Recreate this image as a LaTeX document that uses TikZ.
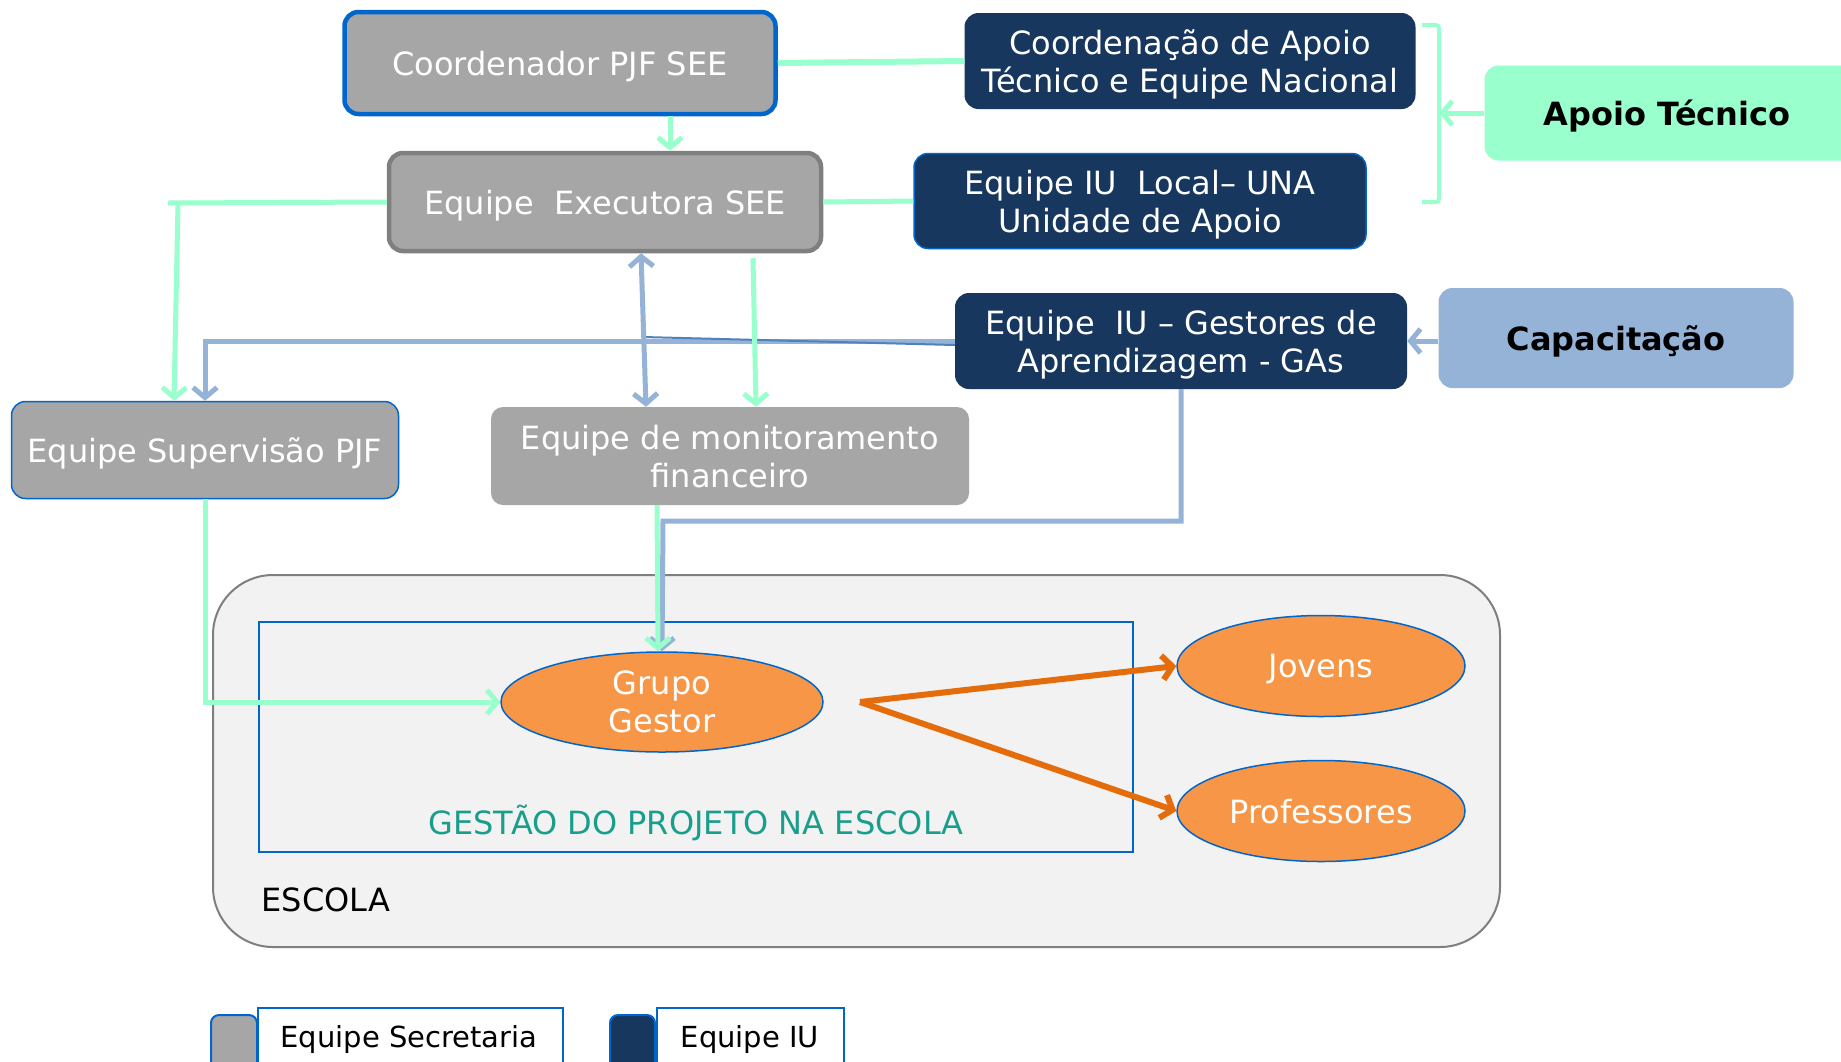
\documentclass[tikz,border=0pt]{standalone}
\usepackage{fontspec}
\setmainfont{DejaVu Sans}
\usetikzlibrary{arrows.meta,shapes.geometric,calc}
\definecolor{mint}{HTML}{99FFCC}
\definecolor{lblue}{HTML}{95B3D7}
\definecolor{navy}{HTML}{17375E}
\definecolor{boxgray}{HTML}{A6A6A6}
\definecolor{bordgray}{HTML}{7F7F7F}
\definecolor{bblue}{HTML}{0066CC}
\definecolor{ofill}{HTML}{F79646}
\definecolor{oline}{HTML}{E46C0A}
\definecolor{teal}{HTML}{1A9E8C}
\definecolor{midblue}{HTML}{4F81BD}
\begin{document}
\begin{tikzpicture}[x=1pt,y=-1pt,
  txt/.style={font=\fontsize{32}{38}\selectfont, align=center, inner sep=0pt, text depth=0pt},
  graybox/.style={txt, rounded corners=14pt, fill=boxgray, text=white},
  navybox/.style={txt, rounded corners=14pt, fill=navy, text=white},
  ell/.style={txt, ellipse, fill=ofill, draw=bblue, line width=1.5pt, text=white},
  tip/.style={-{Straight Barb[length=10pt,width=24pt]}},
  tipboth/.style={{Straight Barb[length=10pt,width=24pt]}-{Straight Barb[length=10pt,width=24pt]}},
  mintline/.style={draw=mint, line width=5pt},
  blueline/.style={draw=lblue, line width=5pt},
  oarrow/.style={draw=oline, line width=6pt, tip},
]
\clip (0,0) rectangle (1841,1061);
\fill[white] (0,0) rectangle (1841,1061);

% school containers
\node[draw=bordgray, fill=black!5, line width=2pt, rounded corners=60pt,
      minimum width=1287pt, minimum height=372pt] (escola) at (856.5,761) {};
\node[draw=bblue, line width=2pt, minimum width=874pt, minimum height=230pt] (gestao) at (696,737) {};
\node[txt, text=teal] (gestaotxt) at (696,820) {GESTÃO DO PROJETO NA ESCOLA};
\node[txt, text=black] (escolatxt) at (326,900) {ESCOLA};

% main boxes
\node[graybox, draw=bblue, line width=4.5pt, minimum width=431pt, minimum height=102pt] (coord) at (560,63) {Coordenador PJF SEE};
\node[graybox, draw=bordgray, line width=4.5pt, minimum width=432pt, minimum height=98pt] (exec) at (605,202) {Equipe\ \ Executora SEE};
\node[navybox, minimum width=451pt, minimum height=96pt] (cat) at (1190,61) {Coordenação de Apoio\\Técnico e Equipe Nacional};
\node[navybox, draw=bblue, line width=1.5pt, minimum width=452pt, minimum height=95pt] (local) at (1140,201) {Equipe IU\ \ Local– UNA\\Unidade de Apoio};
\node[navybox, minimum width=452pt, minimum height=96pt] (gest) at (1181,341) {Equipe\ \ IU – Gestores de\\Aprendizagem - GAs};
\node[txt, rounded corners=14pt, fill=mint, minimum width=375pt, minimum height=95pt] (apoio) at (1672,113) {};
\node[txt, text=black, font=\fontsize{32}{38}\selectfont\bfseries] (apoiotxt) at (1667,113) {Apoio Técnico};
\node[txt, rounded corners=14pt, fill=lblue, text=black, font=\fontsize{32}{38}\selectfont\bfseries,
      minimum width=355pt, minimum height=100pt] (cap) at (1616,338) {Capacitação};
\node[graybox, draw=bblue, line width=1.5pt, minimum width=387pt, minimum height=97pt] (sup) at (205,450) {Equipe Supervisão PJF};
\node[graybox, rounded corners=12pt, minimum width=478pt, minimum height=98pt] (mon) at (730,456) {Equipe de monitoramento\\financeiro};

% ellipses
\node[ell, minimum width=322pt, minimum height=100pt] (gg) at (662,702) {Grupo\\Gestor};
\node[ell, minimum width=288pt, minimum height=101pt] (jov) at (1321,666) {Jovens};
\node[ell, minimum width=288pt, minimum height=101pt] (prof) at (1321,811) {Professores};

% bracket
\coordinate (brk) at (1439,113);
\draw[mint, line width=4pt, rounded corners=3pt] (1422,25) -- (1439,25) -- (1439,202) -- (1422,202);
\draw[mintline, tip] (apoio.west) -- (brk);

% connectors
\draw[mintline, tip] ([xshift=110pt]coord.south) -- ([xshift=65pt]exec.north);
\draw[mint, line width=6pt] (coord.east) -- (cat.west);
\draw[mint, line width=5pt] (exec.east) -- (local.west);
\draw[blueline, tip] (cap.west |- gest.east) -- (gest.east);

% blue from GAs
\draw[blueline, tip] (gest.west) -- (205,341) -- (sup.north);
\draw[midblue, line width=2pt] (643,337) -- ([yshift=-4pt]gest.west);
\draw[blueline, tip] (gest.south) -- (1181,521) -- (663,521) -- (gg.north);
\draw[blueline, tipboth] ([xshift=36pt]exec.south) -- ([xshift=-84pt]mon.north);

% green
\draw[mintline] (exec.west) -- (168,203);
\draw[mintline, tip] (178,203) -- ([xshift=-31pt]sup.north);
\draw[mintline, tip] ([xshift=148pt,yshift=-5pt]exec.south) -- ([xshift=26pt]mon.north);
\draw[mintline, tip] (sup.south) |- (gg.west);
\draw[mintline, tip] ([xshift=-73pt]mon.south) -- ([xshift=-4pt]gg.north);

% orange
\coordinate (fork) at (860,702);
\draw[oarrow] (fork) -- (jov.west);
\draw[oarrow] (fork) -- (prof.west);

% legend
\node[draw=bblue, fill=boxgray, line width=2pt, rounded corners=8pt, minimum width=46pt, minimum height=80pt] (lg1) at (234,1055) {};
\node[draw=bblue, fill=white, line width=2pt, minimum width=305pt, minimum height=90pt] (lb1) at (410.5,1053) {};
\node[font=\fontsize{29}{34}\selectfont, inner sep=0pt, text depth=0pt] (lt1) at (409,1036) {Equipe Secretaria};
\node[draw=bblue, fill=navy, line width=2pt, rounded corners=8pt, minimum width=45pt, minimum height=80pt] (lg2) at (632.5,1055) {};
\node[draw=bblue, fill=white, line width=2pt, minimum width=187pt, minimum height=90pt] (lb2) at (750.5,1053) {};
\node[font=\fontsize{29}{34}\selectfont, inner sep=0pt, text depth=0pt] (lt2) at (750,1036) {Equipe IU};
\end{tikzpicture}
\end{document}
